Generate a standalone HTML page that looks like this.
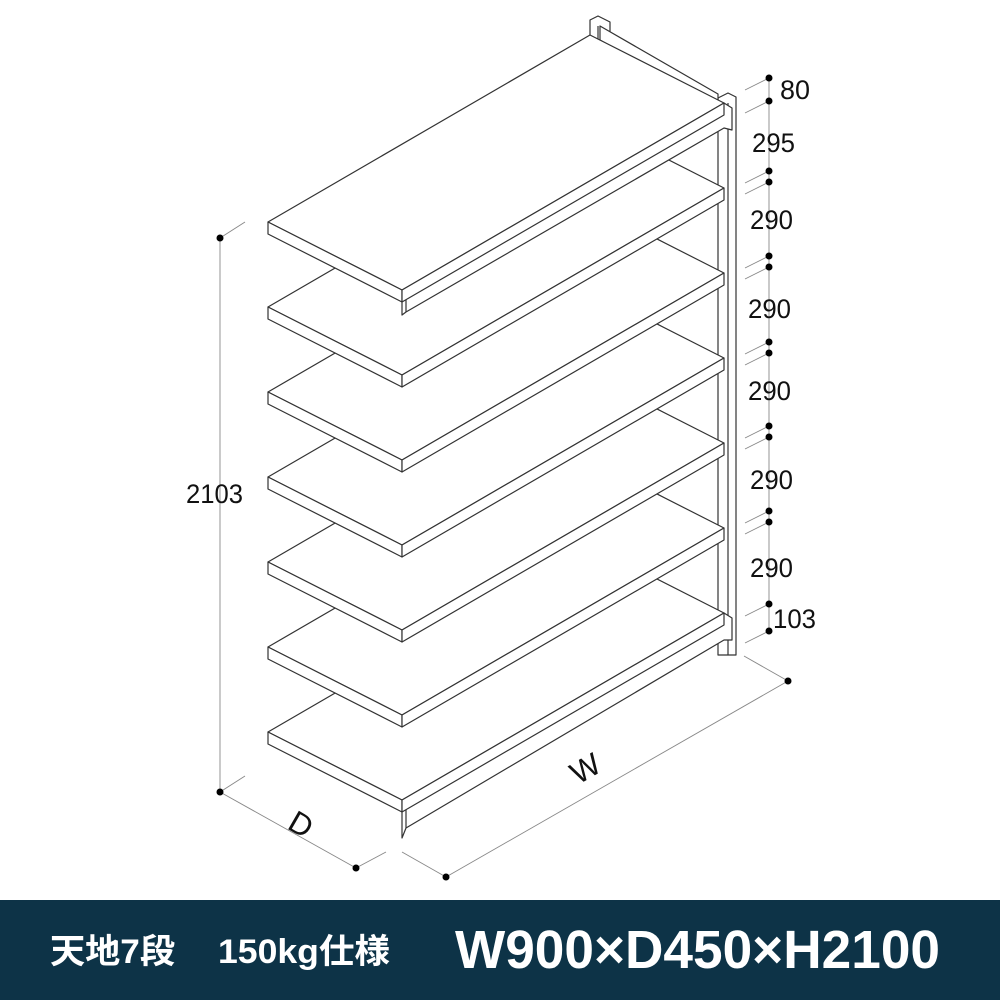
<!DOCTYPE html>
<html><head><meta charset="utf-8"><style>
body{margin:0;width:1000px;height:1000px;background:#fff;overflow:hidden;position:relative}
svg{position:absolute;left:0;top:0}
</style></head><body>
<svg width="1000" height="1000" viewBox="0 0 1000 1000">
<defs>
<g id="s0">
<polygon points="268,222 590,35 724,103 402,290"/>
<polygon points="268,222 402,290 402,302 268,234"/>
<polygon points="402,290 724,103 724,115 402,302"/>
</g>
</defs>
<g fill="#fff" stroke="#333" stroke-width="1.2" stroke-linejoin="round">
<polygon points="590,20 598,16 610,22 610,40 590,40"/>
<line x1="598" y1="40" x2="598" y2="26" />
<polygon points="718,98 728,93 736,97 736,655 718,655"/>
<line x1="728" y1="103" x2="728" y2="655"/>
<polygon points="600,26 718,94 718,108 600,40"/>
<polygon points="650,150 718,188 718,200 650,162"/>
<polygon points="650,235 718,273 718,285 650,247"/>
<polygon points="650,320 718,358 718,370 650,332"/>
<polygon points="650,405 718,443 718,455 650,417"/>
<polygon points="650,490 718,528 718,540 650,502"/>
<polygon points="650,580 718,613 718,625 650,592"/>
<polygon points="402,800 724,613 732,618 732,640 724,640 406,828 402,838"/>
<line x1="406" y1="805" x2="406" y2="828"/>
<use href="#s0" y="510"/>
<use href="#s0" y="425"/>
<use href="#s0" y="340"/>
<use href="#s0" y="255"/>
<use href="#s0" y="170"/>
<use href="#s0" y="85"/>
<polygon points="402,290 724,103 732,108 732,130 724,128 406,312 402,315"/>
<line x1="406" y1="295" x2="406" y2="312"/>
<use href="#s0"/>
</g>
<g stroke="#888" stroke-width="0.9" fill="none">
<line x1="220" y1="238" x2="220" y2="792"/>
<line x1="220" y1="238" x2="245" y2="222"/>
<line x1="220" y1="792" x2="245" y2="776"/>
<line x1="220" y1="792" x2="356" y2="868"/>
<line x1="356" y1="868" x2="386" y2="852"/>
<line x1="446" y1="877" x2="788" y2="681"/>
<line x1="446" y1="877" x2="402" y2="852"/>
<line x1="788" y1="681" x2="744" y2="656"/>
<line x1="769" y1="78" x2="769" y2="631"/>
<line x1="745" y1="90" x2="769" y2="78"/><line x1="745" y1="113" x2="769" y2="101"/>
<line x1="745" y1="183" x2="769" y2="171"/><line x1="745" y1="194" x2="769" y2="182"/>
<line x1="745" y1="268" x2="769" y2="256"/><line x1="745" y1="279" x2="769" y2="267"/>
<line x1="745" y1="354" x2="769" y2="342"/><line x1="745" y1="365" x2="769" y2="353"/>
<line x1="745" y1="438" x2="769" y2="426"/><line x1="745" y1="449" x2="769" y2="437"/>
<line x1="745" y1="523" x2="769" y2="511"/><line x1="745" y1="534" x2="769" y2="522"/>
<line x1="745" y1="616" x2="769" y2="604"/><line x1="745" y1="643" x2="769" y2="631"/>
</g>
<g fill="#000">
<circle cx="220" cy="238" r="3.5"/><circle cx="220" cy="792" r="3.5"/>
<circle cx="356" cy="868" r="3.5"/><circle cx="446" cy="877" r="3.5"/><circle cx="788" cy="681" r="3.5"/>
<circle cx="769" cy="78" r="3.5"/><circle cx="769" cy="101" r="3.5"/>
<circle cx="769" cy="171" r="3.5"/><circle cx="769" cy="182" r="3.5"/>
<circle cx="769" cy="256" r="3.5"/><circle cx="769" cy="267" r="3.5"/>
<circle cx="769" cy="342" r="3.5"/><circle cx="769" cy="353" r="3.5"/>
<circle cx="769" cy="426" r="3.5"/><circle cx="769" cy="437" r="3.5"/>
<circle cx="769" cy="511" r="3.5"/><circle cx="769" cy="522" r="3.5"/>
<circle cx="769" cy="604" r="3.5"/><circle cx="769" cy="631" r="3.5"/>
</g>
<g font-family="Liberation Sans, sans-serif" font-size="27" fill="#111">
<text x="186" y="503" textLength="57" lengthAdjust="spacingAndGlyphs">2103</text>
<text x="780" y="99" textLength="30" lengthAdjust="spacingAndGlyphs">80</text>
<text x="752" y="152" textLength="43" lengthAdjust="spacingAndGlyphs">295</text>
<text x="750" y="229" textLength="43" lengthAdjust="spacingAndGlyphs">290</text>
<text x="748" y="318" textLength="43" lengthAdjust="spacingAndGlyphs">290</text>
<text x="748" y="400" textLength="43" lengthAdjust="spacingAndGlyphs">290</text>
<text x="750" y="489" textLength="43" lengthAdjust="spacingAndGlyphs">290</text>
<text x="750" y="577" textLength="43" lengthAdjust="spacingAndGlyphs">290</text>
<text x="773" y="628" textLength="43" lengthAdjust="spacingAndGlyphs">103</text>
<text x="0" y="0" font-size="31" transform="translate(286,828) rotate(30)">D</text>
<text x="0" y="0" font-size="31" transform="translate(578,785) rotate(-30)">W</text>
</g>
<rect x="0" y="900" width="1000" height="100" fill="#0d3347"/>
<g fill="#fff" font-weight="bold" font-family="Liberation Sans, Noto Sans CJK JP, sans-serif">
<text x="50" y="963" font-size="34" textLength="125" lengthAdjust="spacingAndGlyphs">天地7段</text>
<text x="218" y="963" font-size="34" textLength="172" lengthAdjust="spacingAndGlyphs">150kg仕様</text>
<text x="455" y="968" font-size="54" textLength="485" lengthAdjust="spacingAndGlyphs">W900×D450×H2100</text>
</g>
</svg>
</body></html>
